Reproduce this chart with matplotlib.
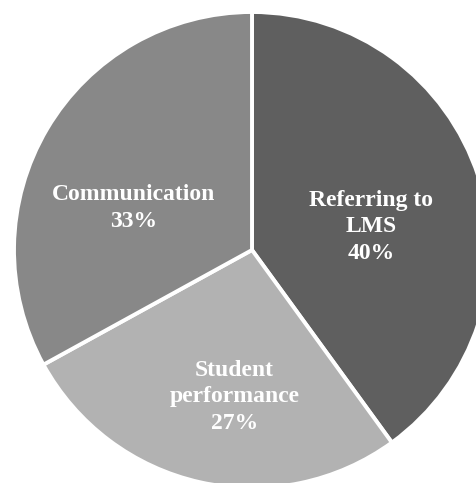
import matplotlib
matplotlib.use("Agg")
import matplotlib.pyplot as plt

# data
categories = ["Referring to\nLMS", "Student\nperformance", "Communication"]
shares = [40, 27, 33]

# style
colors = ["#5f5f5f", "#b2b2b2", "#888888"]
label_offsets = [(119, 23), (-17.5, -147), (-118.5, 42)]  # px from pie centre

W, H = 477, 483
cx, cy, r = 252, 233, 238

fig = plt.figure(figsize=(W / 100, H / 100), dpi=100)
ax = fig.add_axes([0, 0, 1, 1])

ax.pie(shares, colors=colors, startangle=90, counterclock=False,
       radius=r, center=(cx, cy), frame=True,
       wedgeprops=dict(edgecolor="white", linewidth=2.8))
ax.set_xlim(0, W)
ax.set_ylim(0, H)
ax.set_aspect("equal")
ax.axis("off")

for cat, val, (dx, dy) in zip(categories, shares, label_offsets):
    ax.text(cx + dx, cy + dy, f"{cat}\n{val}%", ha="center", va="center",
            color="white", fontsize=17, fontweight="bold",
            family="Liberation Serif", linespacing=1.37)

fig.savefig("out.png", dpi=100)
